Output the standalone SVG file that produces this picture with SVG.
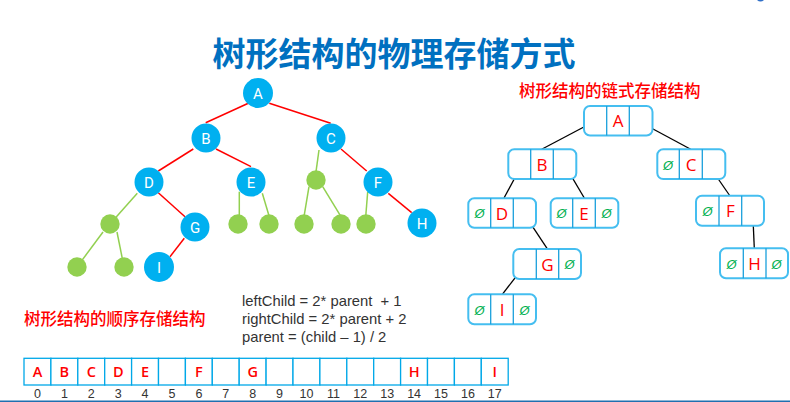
<svg xmlns="http://www.w3.org/2000/svg" width="790" height="402" viewBox="0 0 790 402">
<style>
.title{font-family:"Noto Sans CJK SC","Noto Sans",sans-serif;font-weight:bold;font-size:33px;fill:#0070C0}
.cn{font-family:"Noto Sans CJK SC","Noto Sans",sans-serif;font-size:16.5px;font-weight:500;fill:#FF0000}
.bn circle{fill:#00B0F0}
.gn{fill:#92D050}
.bl{font-family:Roboto,"Liberation Sans",sans-serif;font-size:15px;fill:#FFFFFF;text-anchor:middle}
.red{stroke:#FF0000;stroke-width:1.5;fill:none}
.grn{stroke:#92D050;stroke-width:1.5;fill:none}
.blk{stroke:#000000;stroke-width:1.3;fill:none}
.box{fill:#FFFFFF;stroke:#45BEF0;stroke-width:2}
.div{stroke:#1AA0DC;stroke-width:1.3}
.lt{font-family:"Open Sans","Liberation Sans",sans-serif;font-size:17px;fill:#FF0000;text-anchor:middle}
.nul{font-family:"Liberation Sans",sans-serif;font-style:italic;font-size:13px;fill:#00B050;text-anchor:middle}
.fm{font-family:"Liberation Sans",sans-serif;font-size:14.8px;fill:#333333;white-space:pre}
.cell{fill:#FFFFFF;stroke:#00A8E8;stroke-width:1.3}
.al{font-family:"Open Sans","Liberation Sans",sans-serif;font-size:14.5px;font-weight:600;fill:#FF0000;text-anchor:middle}
.idx{font-family:"Liberation Sans",sans-serif;font-size:12.5px;fill:#333333;text-anchor:middle}
</style>

<path d="M757 0 Q760.5 3 764 0 Z" fill="#2F6FC8"/>
<text class="title" x="394" y="66" text-anchor="middle">树形结构的物理存储方式</text>

<!-- tree connectors -->
<g id="tree-edges">
<line class="red" x1="205.7" y1="122.7" x2="248.3" y2="103.3"/>
<line class="red" x1="269.3" y1="103.3" x2="330.7" y2="123.3"/>
<line class="red" x1="193.3" y1="149" x2="158.3" y2="171"/>
<line class="red" x1="216" y1="149" x2="251" y2="166.7"/>
<line class="red" x1="341" y1="149" x2="366.7" y2="171"/>
<line class="red" x1="158.3" y1="192.7" x2="185" y2="216.7"/>
<line class="red" x1="184.3" y1="238.3" x2="170" y2="256.7"/>
<line class="red" x1="388.3" y1="193.3" x2="411.7" y2="212.7"/>
<line class="grn" x1="319" y1="150" x2="316" y2="171.7"/>
<line class="grn" x1="137.3" y1="193.3" x2="110" y2="224"/>
<line class="grn" x1="103" y1="232" x2="77" y2="267"/>
<line class="grn" x1="117" y1="232" x2="124" y2="267"/>
<line class="grn" x1="239.3" y1="191.7" x2="239.3" y2="216.7"/>
<line class="grn" x1="262.3" y1="193.3" x2="269.3" y2="216.7"/>
<line class="grn" x1="309" y1="186.7" x2="304" y2="216.7"/>
<line class="grn" x1="322.7" y1="186.7" x2="341" y2="216.7"/>
<line class="grn" x1="367.7" y1="191.7" x2="365.7" y2="216.7"/>
</g>

<g id="tree-nodes">
<g id="tA" class="bn"><circle cx="258" cy="93" r="15"/><text class="bl" x="258" y="98.5">A</text></g>
<g id="tB" class="bn"><circle cx="206" cy="138" r="14.5"/><text class="bl" x="206" y="143.5">B</text></g>
<g id="tC" class="bn"><circle cx="331" cy="138" r="14.5"/><text class="bl" x="331" y="143.5">C</text></g>
<g id="tD" class="bn"><circle cx="149" cy="182" r="14.5"/><text class="bl" x="149" y="187.5">D</text></g>
<g id="tE" class="bn"><circle cx="251" cy="182" r="14.5"/><text class="bl" x="251" y="187.5">E</text></g>
<g id="tF" class="bn"><circle cx="378" cy="182" r="14.5"/><text class="bl" x="378" y="187.5">F</text></g>
<g id="tG" class="bn"><circle cx="195" cy="227" r="14.5"/><text class="bl" x="195" y="232.5">G</text></g>
<g id="tH" class="bn"><circle cx="422" cy="223" r="14.5"/><text class="bl" x="422" y="228.5">H</text></g>
<g id="tI" class="bn"><circle cx="159" cy="267" r="15"/><text class="bl" x="159" y="272.5">I</text></g>
<g id="tg1"><circle class="gn" cx="316" cy="180" r="9.7"/></g>
<g id="tg2"><circle class="gn" cx="110" cy="224" r="9.7"/></g>
<g id="tg3"><circle class="gn" cx="238" cy="224" r="9.7"/></g>
<g id="tg4"><circle class="gn" cx="269" cy="224" r="9.7"/></g>
<g id="tg5"><circle class="gn" cx="304" cy="224" r="9.7"/></g>
<g id="tg6"><circle class="gn" cx="341" cy="224" r="9.7"/></g>
<g id="tg7"><circle class="gn" cx="366" cy="224" r="9.7"/></g>
<g id="tg8"><circle class="gn" cx="77" cy="267" r="9.7"/></g>
<g id="tg9"><circle class="gn" cx="124" cy="267" r="9.7"/></g>
</g>

<!-- linked storage -->
<text class="cn" x="519" y="97">树形结构的链式存储结构</text>

<g id="link-edges">
<line class="blk" x1="595.7" y1="120.7" x2="541.7" y2="149.3"/>
<line class="blk" x1="637.7" y1="120.7" x2="690.7" y2="149.3"/>
<line class="blk" x1="521.7" y1="165.3" x2="504" y2="198"/>
<line class="blk" x1="565" y1="165.3" x2="584.3" y2="198"/>
<line class="blk" x1="710.7" y1="168" x2="730" y2="196"/>
<line class="blk" x1="523.3" y1="212.7" x2="547.7" y2="249.3"/>
<line class="blk" x1="525" y1="265" x2="502.3" y2="294.3"/>
<line class="blk" x1="752.7" y1="211.7" x2="754.3" y2="248.3"/>
</g>

<g id="lA"><rect class="box" x="584" y="106" width="68.5" height="29.5" rx="6"/><line class="div" x1="606.7" y1="106" x2="606.7" y2="135.5"/><line class="div" x1="629.3" y1="106" x2="629.3" y2="135.5"/><text class="lt" x="618" y="127">A</text></g>
<g id="lB"><rect class="box" x="508.3" y="149.3" width="68" height="29.8" rx="6"/><line class="div" x1="530.7" y1="149.3" x2="530.7" y2="179.1"/><line class="div" x1="553.3" y1="149.3" x2="553.3" y2="179.1"/><text class="lt" x="542" y="170.5">B</text></g>
<g id="lC"><rect class="box" x="657.3" y="149.3" width="68" height="29.8" rx="6"/><line class="div" x1="679.3" y1="149.3" x2="679.3" y2="179.1"/><line class="div" x1="702.3" y1="149.3" x2="702.3" y2="179.1"/><text class="nul" x="668" y="169.5">Ø</text><text class="lt" x="691" y="170.5">C</text></g>
<g id="lD"><rect class="box" x="468.3" y="198.3" width="67.7" height="29.4" rx="6"/><line class="div" x1="490.7" y1="198.3" x2="490.7" y2="227.7"/><line class="div" x1="513.3" y1="198.3" x2="513.3" y2="227.7"/><text class="nul" x="479.5" y="218">Ø</text><text class="lt" x="502" y="219.5">D</text></g>
<g id="lE"><rect class="box" x="550.7" y="198.3" width="67.6" height="29.4" rx="6"/><line class="div" x1="572.7" y1="198.3" x2="572.7" y2="227.7"/><line class="div" x1="595.3" y1="198.3" x2="595.3" y2="227.7"/><text class="nul" x="561.5" y="218">Ø</text><text class="lt" x="584" y="219.5">E</text><text class="nul" x="606.5" y="218">Ø</text></g>
<g id="lF"><rect class="box" x="696" y="195.7" width="68" height="30" rx="6"/><line class="div" x1="719" y1="195.7" x2="719" y2="225.7"/><line class="div" x1="741.7" y1="195.7" x2="741.7" y2="225.7"/><text class="nul" x="707.5" y="215.5">Ø</text><text class="lt" x="730.3" y="217">F</text></g>
<g id="lG"><rect class="box" x="513.3" y="249" width="67.7" height="30" rx="6"/><line class="div" x1="536.3" y1="249" x2="536.3" y2="279"/><line class="div" x1="558.7" y1="249" x2="558.7" y2="279"/><text class="lt" x="547.5" y="270.5">G</text><text class="nul" x="569.5" y="269">Ø</text></g>
<g id="lH"><rect class="box" x="720" y="248.3" width="68" height="30" rx="6"/><line class="div" x1="743.3" y1="248.3" x2="743.3" y2="278.3"/><line class="div" x1="766" y1="248.3" x2="766" y2="278.3"/><text class="nul" x="731.5" y="268.5">Ø</text><text class="lt" x="754.6" y="270">H</text><text class="nul" x="776.5" y="268.5">Ø</text></g>
<g id="lI"><rect class="box" x="468.3" y="294.3" width="67.7" height="30" rx="6"/><line class="div" x1="490.7" y1="294.3" x2="490.7" y2="324.3"/><line class="div" x1="513.3" y1="294.3" x2="513.3" y2="324.3"/><text class="nul" x="479.5" y="314.5">Ø</text><text class="lt" x="502" y="316">I</text><text class="nul" x="524.5" y="314.5">Ø</text></g>

<!-- sequential storage -->
<text class="cn" x="24" y="325">树形结构的顺序存储结构</text>
<text class="fm" x="242" y="306">leftChild = 2* parent  + 1</text>
<text class="fm" x="242" y="324">rightChild = 2* parent + 2</text>
<text class="fm" x="242" y="342">parent = (child – 1) / 2</text>

<g id="array">
<rect class="cell" x="24" y="358.3" width="26.9" height="26.7"/>
<rect class="cell" x="50.9" y="358.3" width="26.9" height="26.7"/>
<rect class="cell" x="77.8" y="358.3" width="26.9" height="26.7"/>
<rect class="cell" x="104.7" y="358.3" width="26.9" height="26.7"/>
<rect class="cell" x="131.6" y="358.3" width="26.9" height="26.7"/>
<rect class="cell" x="158.5" y="358.3" width="26.9" height="26.7"/>
<rect class="cell" x="185.4" y="358.3" width="26.9" height="26.7"/>
<rect class="cell" x="212.3" y="358.3" width="26.9" height="26.7"/>
<rect class="cell" x="239.2" y="358.3" width="26.9" height="26.7"/>
<rect class="cell" x="266.1" y="358.3" width="26.9" height="26.7"/>
<rect class="cell" x="293" y="358.3" width="26.9" height="26.7"/>
<rect class="cell" x="319.9" y="358.3" width="26.9" height="26.7"/>
<rect class="cell" x="346.8" y="358.3" width="26.9" height="26.7"/>
<rect class="cell" x="373.7" y="358.3" width="26.9" height="26.7"/>
<rect class="cell" x="400.6" y="358.3" width="26.9" height="26.7"/>
<rect class="cell" x="427.5" y="358.3" width="26.9" height="26.7"/>
<rect class="cell" x="454.4" y="358.3" width="26.9" height="26.7"/>
<rect class="cell" x="481.3" y="358.3" width="26.9" height="26.7"/>
<text class="al" x="37.5" y="377">A</text>
<text class="al" x="64.4" y="377">B</text>
<text class="al" x="91.3" y="377">C</text>
<text class="al" x="118.2" y="377">D</text>
<text class="al" x="145.1" y="377">E</text>
<text class="al" x="198.9" y="377">F</text>
<text class="al" x="252.7" y="377">G</text>
<text class="al" x="414.1" y="377">H</text>
<text class="al" x="494.8" y="377">I</text>
<text class="idx" x="37.5" y="398">0</text>
<text class="idx" x="64.4" y="398">1</text>
<text class="idx" x="91.3" y="398">2</text>
<text class="idx" x="118.2" y="398">3</text>
<text class="idx" x="145.1" y="398">4</text>
<text class="idx" x="172" y="398">5</text>
<text class="idx" x="198.9" y="398">6</text>
<text class="idx" x="225.8" y="398">7</text>
<text class="idx" x="252.7" y="398">8</text>
<text class="idx" x="279.6" y="398">9</text>
<text class="idx" x="306.5" y="398">10</text>
<text class="idx" x="333.4" y="398">11</text>
<text class="idx" x="360.3" y="398">12</text>
<text class="idx" x="387.2" y="398">13</text>
<text class="idx" x="414.1" y="398">14</text>
<text class="idx" x="441" y="398">15</text>
<text class="idx" x="467.9" y="398">16</text>
<text class="idx" x="494.8" y="398">17</text>
</g>
<line x1="0" y1="401.2" x2="790" y2="401.2" stroke="#1F6FB0" stroke-width="1.5"/>
</svg>
